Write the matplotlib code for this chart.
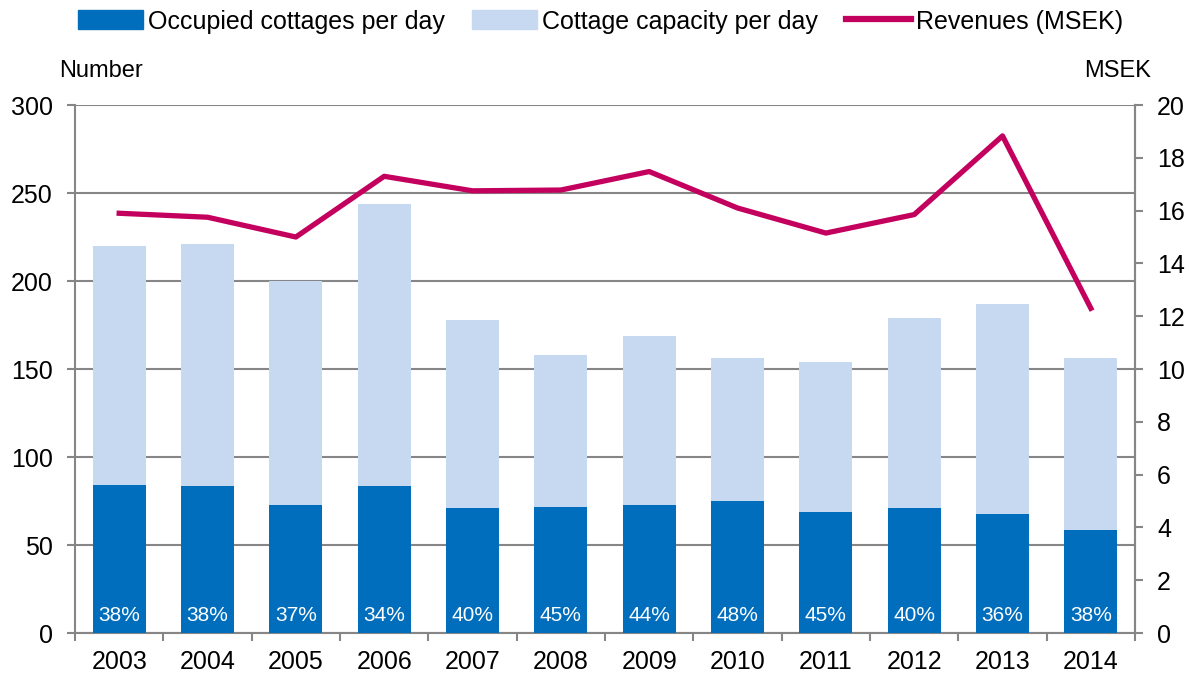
import matplotlib
matplotlib.use("Agg")
import matplotlib.pyplot as plt
from matplotlib.patches import Patch
from matplotlib.lines import Line2D
import numpy as np

plt.rcParams['font.family'] = ['Liberation Sans', 'DejaVu Sans']

years = ["2003", "2004", "2005", "2006", "2007", "2008", "2009", "2010", "2011", "2012", "2013", "2014"]
capacity = [220, 221, 200, 244, 178, 158, 169, 156, 154, 179, 187, 156]
occupied = [84, 83.5, 73, 83.5, 71, 71.5, 73, 75, 68.5, 71, 67.5, 58.5]
revenues = [15.9, 15.75, 15.0, 17.3, 16.75, 16.78, 17.48, 16.1, 15.15, 15.85, 18.83, 12.3]
pct_labels = ["38%", "38%", "37%", "34%", "40%", "45%", "44%", "48%", "45%", "40%", "36%", "38%"]

c_occ = "#006EBD"
c_cap = "#C6D9F0"
c_rev = "#C4005E"
c_grid = "#868686"

fig = plt.figure(figsize=(11.89, 6.75), dpi=100)
ax = fig.add_axes([0.0631, 0.0622, 0.8915, 0.7822])
x = np.arange(len(years))
w = 0.6
ax.bar(x, capacity, width=w, color=c_cap, zorder=2)
ax.bar(x, occupied, width=w, color=c_occ, zorder=3)
for xi, lab in zip(x, pct_labels):
    ax.text(xi, 4.5, lab, ha="center", va="bottom", color="white", fontsize=15, zorder=4)

ax.set_xlim(-0.5, len(years) - 0.5)
ax.set_ylim(0, 300)
ax.set_yticks(range(0, 301, 50))
ax.yaxis.grid(True, color=c_grid, linewidth=1.5, zorder=0)
ax.set_axisbelow(True)
ax.set_xticks(x)
ax.set_xticklabels(years)
ax.set_xticks(np.arange(-0.5, len(years), 1), minor=True)
ax.tick_params(axis="x", which="major", length=0, labelsize=18, pad=12)
ax.tick_params(axis="x", which="minor", length=6, width=1.5, color=c_grid, direction="out")
ax.tick_params(axis="y", labelsize=18, length=6, width=1.5, color=c_grid, direction="out", pad=10)
ax.spines["top"].set_visible(False)
for s in ["left", "bottom", "right"]:
    ax.spines[s].set_color(c_grid)
    ax.spines[s].set_linewidth(1.5)

ax2 = ax.twinx()
ax2.plot(x, revenues, color=c_rev, linewidth=3.8, zorder=5)
ax2.set_ylim(0, 20)
ax2.set_yticks(range(0, 21, 2))
ax2.tick_params(axis="y", labelsize=18, length=6, width=1.5, color=c_grid, direction="out", pad=10)
for s in ["top", "left", "bottom"]:
    ax2.spines[s].set_visible(False)
ax2.spines["right"].set_color(c_grid)
ax2.spines["right"].set_linewidth(1.5)
ax2.set_xlim(-0.5, len(years) - 0.5)

fig.text(0.050, 0.895, "Number", fontsize=17, ha="left", va="center")
fig.text(0.968, 0.895, "MSEK", fontsize=17, ha="right", va="center")

handles = [Patch(color=c_occ), Patch(color=c_cap), Line2D([0], [0], color=c_rev, linewidth=4.5)]
labels = ["Occupied cottages per day", "Cottage capacity per day", "Revenues (MSEK)"]
fig.legend(handles, labels, loc="center", bbox_to_anchor=(0.505, 0.968), ncol=3, frameon=False,
           fontsize=18, handlelength=2.6, handleheight=0.8, handletextpad=0.2, columnspacing=1.1)

fig.savefig("out.png", dpi=100)
